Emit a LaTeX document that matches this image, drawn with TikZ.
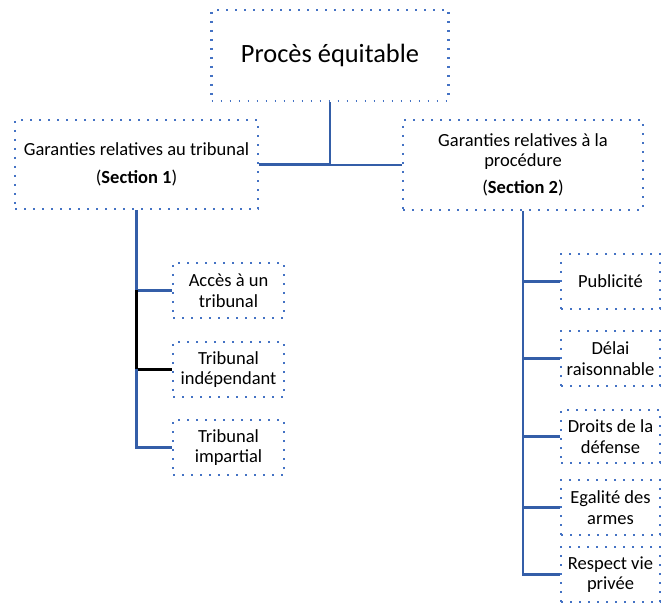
\documentclass[tikz,border=0pt]{standalone}
\usepackage{fontspec}
\setmainfont{Carlito}
\definecolor{dotblue}{RGB}{68,114,196}
\definecolor{lineblue}{RGB}{52,94,168}
\begin{document}
\begin{tikzpicture}[x=1pt,y=-1pt,
  box/.style={draw=dotblue, line width=2.6pt, dash pattern=on 1.8pt off 7.2pt, align=center, inner sep=0pt, font=\fontsize{18.5}{20.5}\selectfont},
  conn/.style={draw=lineblue, line width=2.5pt},
  blk/.style={draw=black, line width=2.5pt}]
\useasboundingbox (0,0) rectangle (662,604);
\node[box, minimum width=237pt, minimum height=91pt, font=\fontsize{26.4}{30}\selectfont] (top) at (330,55.5) {Procès équitable};
\node[box, minimum width=243pt, minimum height=89pt] (left) at (136.5,164.5) {Garanties relatives au tribunal\\[8pt](\textbf{Section 1})};
\node[box, minimum width=240pt, minimum height=90pt] (right) at (523,165) {Garanties relatives à la\\procédure\\[6.5pt](\textbf{Section 2})};
% left children
\node[box, minimum width=111pt, minimum height=55pt] (c1) at (228.5,290.5) {Accès à un\\tribunal};
\node[box, minimum width=111pt, minimum height=55pt] (c2) at (228.5,369.5) {Tribunal\\indépendant};
\node[box, minimum width=111pt, minimum height=55pt] (c3) at (228.5,447.5) {Tribunal\\impartial};
% right children
\node[box, minimum width=99pt, minimum height=55pt] (r1) at (610.5,281.5) {Publicité};
\node[box, minimum width=99pt, minimum height=55pt] (r2) at (610.5,358.5) {Délai\\raisonnable};
\node[box, minimum width=99pt, minimum height=53pt] (r3) at (610.5,436.5) {Droits de la\\défense};
\node[box, minimum width=99pt, minimum height=55pt] (r4) at (610.5,507.5) {Egalité des\\armes};
\node[box, minimum width=99pt, minimum height=55pt] (r5) at (610.5,574.5) {Respect vie\\privée};
% top connectors
\draw[conn] (left.east) -| (top.south);
\draw[conn] (right.west) -| (top.south);
% left tree
\coordinate (l1) at (c1.west -| left.south);
\coordinate (l2) at (c2.west -| left.south);
\draw[conn] (left.south) -- (l1) -- (c1.west);
\draw[blk] (l1) -- (l2) -- (c2.west);
\draw[conn] (l2) |- (c3.west);
% right tree
\draw[conn] (right.south) |- (r5.west);
\foreach \n in {r1,r2,r3,r4} \draw[conn] (\n.west -| right.south) -- (\n.west);
\end{tikzpicture}
\end{document}
